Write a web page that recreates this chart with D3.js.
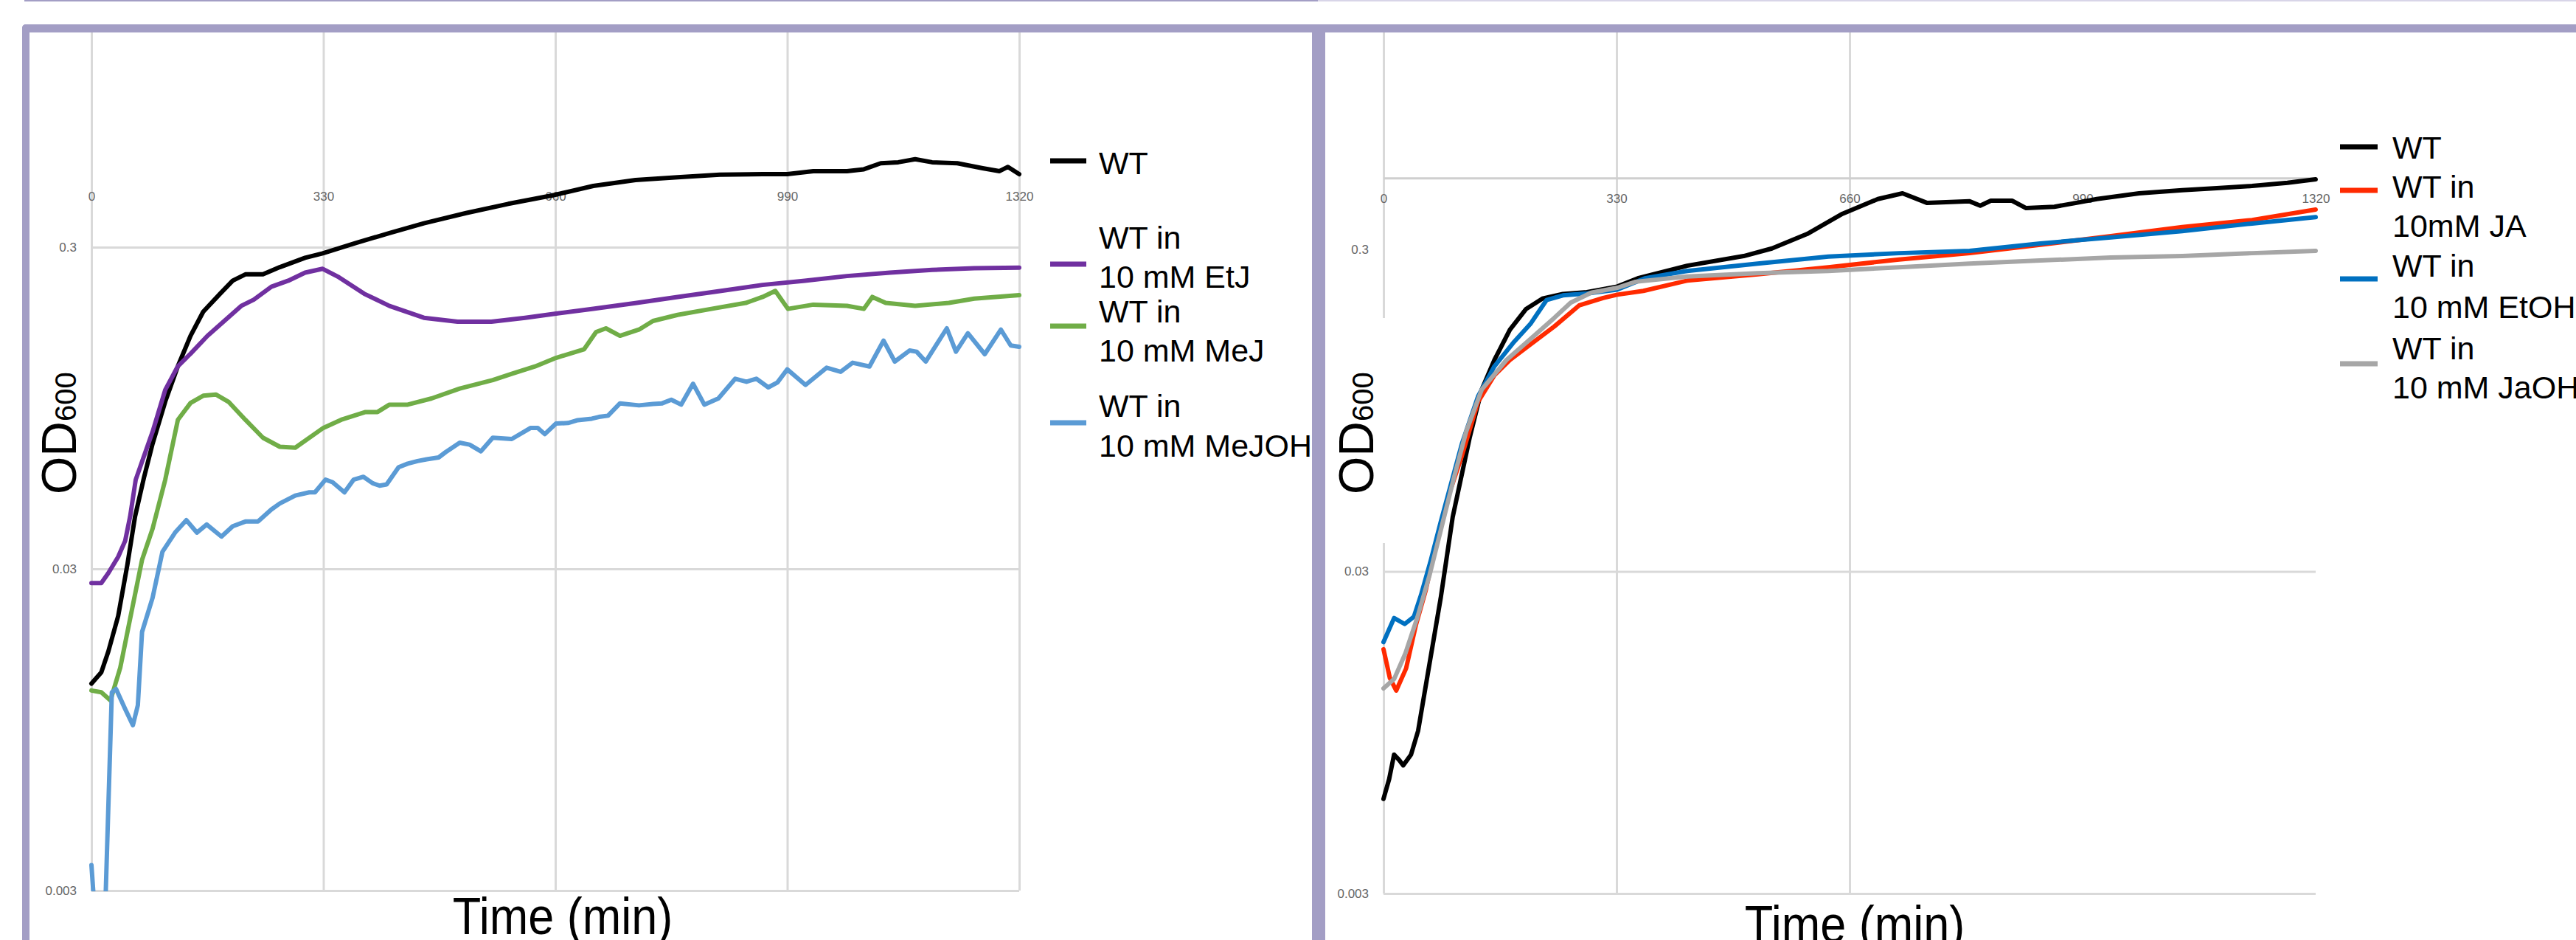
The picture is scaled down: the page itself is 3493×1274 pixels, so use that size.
<!DOCTYPE html>
<html>
<head>
<meta charset="utf-8">
<script src="https://cdn.jsdelivr.net/npm/d3@7"></script>
<style>
  body { margin: 0; background: #fff; }
  svg { display: block; }
  .tick text { font-family: "Liberation Sans", Arial, sans-serif; fill: #666; }
  .grid line { stroke: #d9d9d9; stroke-width: 3; }
</style>
</head>
<body>
<div class="chart"></div>
<script>
// Growth curves, two panels. time in min, OD600 on log axis

var xTicks = [0, 330, 660, 990, 1320];
var yTicks = [0.003, 0.03, 0.3];

// left panel
var leftWtTime = [0,14,24,38,51,62,75,87,105,123,141,159,183,201,219,244,268,304,329,376,424,473,533,593,659,714,774,834,894,955,990,1027,1075,1099,1123,1148,1172,1196,1232,1268,1292,1304,1320];
var leftWtOD = [0.0132,0.0143,0.0166,0.0214,0.0308,0.0436,0.058,0.0735,0.0993,0.128,0.159,0.189,0.215,0.236,0.247,0.247,0.260,0.278,0.287,0.309,0.332,0.356,0.383,0.409,0.436,0.465,0.485,0.495,0.504,0.506,0.506,0.517,0.517,0.524,0.547,0.551,0.563,0.551,0.547,0.528,0.517,0.533,0.506];

var etjTime = [0,14,24,38,48,55,63,75,87,105,123,141,165,189,213,231,256,280,304,329,352,388,424,473,521,569,617,665,714,774,834,894,955,1015,1075,1136,1196,1256,1320];
var etjOD = [0.0271,0.0271,0.0291,0.0327,0.0367,0.0436,0.0568,0.0675,0.0801,0.108,0.128,0.140,0.159,0.177,0.197,0.206,0.226,0.236,0.250,0.257,0.242,0.215,0.197,0.181,0.176,0.176,0.181,0.187,0.193,0.201,0.210,0.219,0.229,0.236,0.244,0.250,0.255,0.258,0.259];

var mejTime = [0,14,27,41,55,72,87,105,123,141,159,177,195,219,244,268,290,330,357,390,407,424,450,484,524,571,598,631,661,701,718,732,752,779,799,834,882,931,955,973,991,1027,1075,1099,1111,1130,1172,1220,1256,1320];
var mejOD = [0.01256,0.0124,0.0117,0.0148,0.0210,0.0320,0.0400,0.0568,0.0872,0.0984,0.1036,0.1045,0.0992,0.0872,0.0767,0.0719,0.0714,0.0823,0.0875,0.0922,0.0922,0.0972,0.0972,0.1016,0.1090,0.1159,0.1212,0.1277,0.1358,0.1445,0.1634,0.1678,0.1591,0.1663,0.1769,0.1848,0.1929,0.2013,0.2101,0.2194,0.1929,0.1988,0.1971,0.1929,0.2101,0.2013,0.1971,0.2013,0.2075,0.2129];

var mejohTime = [0,3,8,16,20,29,35,48,59,66,72,87,101,119,135,150,164,185,201,219,237,256,268,290,310,318,333,343,360,373,387,400,410,420,437,450,464,477,494,504,524,538,554,571,598,625,635,645,661,678,692,712,722,735,752,779,799,812,825,839,856,872,892,916,932,946,963,976,990,1016,1046,1066,1083,1107,1127,1143,1164,1174,1187,1217,1230,1247,1271,1294,1308,1320];
var mejohOD = [0.0036,0.0029,0.0022,0.0022,0.0028,0.0124,0.0127,0.011,0.0098,0.0113,0.0191,0.0244,0.0339,0.0389,0.0425,0.0389,0.0412,0.0378,0.0407,0.0421,0.0421,0.0459,0.0479,0.0507,0.0519,0.0519,0.0568,0.0558,0.0519,0.0568,0.0580,0.0554,0.0544,0.0549,0.0621,0.0637,0.0649,0.0657,0.0666,0.0692,0.0740,0.0730,0.0696,0.0767,0.0760,0.0823,0.0823,0.0787,0.0849,0.0852,0.0870,0.0879,0.0890,0.0898,0.0981,0.0967,0.0977,0.0981,0.1007,0.0972,0.1129,0.0972,0.1016,0.1170,0.1145,0.1170,0.1100,0.1139,0.1251,0.1119,0.1266,0.1229,0.1312,0.1277,0.1537,0.1323,0.1432,0.1420,0.1323,0.1678,0.1420,0.1620,0.1395,0.1663,0.1484,0.1471];

// right panel
var rightWtTime = [0,8,15,22,28,39,49,64,81,98,122,139,157,179,202,225,254,288,331,360,430,510,550,600,650,700,735,770,830,845,860,890,910,950,980,1010,1070,1131,1180,1230,1280,1320];
var rightWtOD = [0.0059,0.0068,0.0081,0.0078,0.0075,0.0081,0.0096,0.015,0.0248,0.0443,0.078,0.110,0.136,0.169,0.196,0.211,0.218,0.221,0.230,0.244,0.267,0.286,0.302,0.335,0.387,0.430,0.448,0.418,0.423,0.410,0.425,0.425,0.403,0.407,0.418,0.430,0.448,0.458,0.465,0.472,0.483,0.495];

var jaTime = [0,9,18,32,46,60,74,94,111,134,157,179,208,242,277,311,331,368,430,530,630,730,830,930,1030,1131,1230,1320];
var jaOD = [0.0172,0.014,0.0128,0.0150,0.0205,0.0263,0.0365,0.0531,0.0686,0.101,0.122,0.136,0.152,0.173,0.201,0.212,0.217,0.223,0.240,0.251,0.264,0.279,0.292,0.310,0.330,0.352,0.370,0.399];

var etohTime = [0,15,30,43,53,67,81,111,134,157,185,208,231,254,288,331,370,430,530,630,730,830,930,1030,1131,1230,1320];
var etohOD = [0.0181,0.0215,0.0206,0.0217,0.0253,0.0325,0.0427,0.0747,0.105,0.130,0.155,0.176,0.209,0.216,0.219,0.225,0.244,0.257,0.271,0.285,0.292,0.297,0.313,0.327,0.342,0.361,0.378];

var jaohTime = [0,15,31,48,65,82,99,117,139,174,208,242,265,294,331,357,430,530,630,730,830,930,1030,1131,1230,1320];
var jaohOD = [0.0130,0.0139,0.0167,0.0216,0.0291,0.041,0.0578,0.0815,0.110,0.136,0.158,0.184,0.205,0.220,0.228,0.238,0.247,0.253,0.257,0.264,0.271,0.277,0.283,0.286,0.292,0.297];

var leftLabels = [["WT"], ["WT in", "10 mM EtJ"], ["WT in", "10 mM MeJ"], ["WT in", "10 mM MeJOH"]];
var rightLabels = [["WT"], ["WT in", "10mM JA"], ["WT in", "10 mM EtOH"], ["WT in", "10 mM JaOH"]];

var svgWidth = 3493;
var svgHeight = 1274;
var frameColor = "#a39ec5";

var svg = d3.select(".chart")
  .append("svg")
  .attr("width", svgWidth)
  .attr("height", svgHeight)
  .style("font-family", "'Liberation Sans', Arial, sans-serif");

svg.append("rect").attr("width", svgWidth).attr("height", svgHeight).attr("fill", "#fff");

// frame around the two screenshots
svg.append("rect").attr("x", 33).attr("y", 0).attr("width", 1754).attr("height", 2).attr("fill", frameColor);
svg.append("rect").attr("x", 1787).attr("y", 0).attr("width", svgWidth - 1787).attr("height", 2).attr("fill", "#d8d5e8");
svg.append("rect").attr("x", 30).attr("y", 33).attr("width", svgWidth).attr("height", 11).attr("rx", 5).attr("fill", frameColor);
svg.append("rect").attr("x", 30).attr("y", 33).attr("width", 10).attr("height", svgHeight).attr("rx", 5).attr("fill", frameColor);
svg.append("rect").attr("x", 1779).attr("y", 33).attr("width", 18).attr("height", svgHeight).attr("fill", frameColor);

var panels = [
  {
    id: "left", x0: 124, x1: 1382, top: 44, yLow: 1207, yHigh: 335,
    xGrid: xTicks, yGrid: yTicks, axisLine: false, labelPad: 22,
    series: [
      {t: leftWtTime, v: leftWtOD, color: "#000000"},
      {t: etjTime, v: etjOD, color: "#7030a0"},
      {t: mejTime, v: mejOD, color: "#70ad47"},
      {t: mejohTime, v: mejohOD, color: "#5b9bd5"}
    ],
    labels: leftLabels,
    legend: {x0: 1424, x1: 1473, tx: 1490, lineY: [218, 358, 442, 573], base: [[236], [337, 390], [437, 490], [565, 619]]},
    titleX: 763, titleY: 1266, odX: 103
  },
  {
    id: "right", x0: 1876, x1: 3140, top: 44, yLow: 1211, yHigh: 338,
    xGrid: [0, 330, 660], yGrid: [0.003, 0.03], axisLine: true, labelPad: 22,
    series: [
      {t: rightWtTime, v: rightWtOD, color: "#000000"},
      {t: jaTime, v: jaOD, color: "#ff2a00"},
      {t: etohTime, v: etohOD, color: "#0070c0"},
      {t: jaohTime, v: jaohOD, color: "#a6a6a6"}
    ],
    labels: rightLabels,
    legend: {x0: 3173, x1: 3224, tx: 3244, lineY: [199, 258, 378, 493], base: [[215], [268, 321], [375, 431], [487, 540]]},
    titleX: 2515, titleY: 1277, odX: 1862
  }
];

panels.forEach(function(p) {
  var x = d3.scaleLinear().domain([0, 1320]).range([p.x0, p.x1]);
  var y = d3.scaleLog().domain([0.003, 0.3]).range([p.yLow, p.yHigh]);
  var g = svg.append("g");

  // vertical gridlines
  g.append("g")
    .attr("class", "grid")
    .attr("transform", `translate(0, ${p.yLow})`)
    .call(d3.axisBottom(x).tickValues(p.xGrid).tickSize(-(p.yLow - p.top)).tickFormat(""))
    .call(s => s.select(".domain").remove());

  // horizontal gridlines
  g.append("g")
    .attr("class", "grid")
    .attr("transform", `translate(${p.x0}, 0)`)
    .call(d3.axisLeft(y).tickValues(p.yGrid).tickSize(-(p.x1 - p.x0)).tickFormat(""))
    .call(s => s.select(".domain").remove());

  // y labels
  g.append("g")
    .attr("transform", `translate(${p.x0}, 0)`)
    .call(d3.axisLeft(y).tickValues(yTicks).tickSize(0).tickPadding(20).tickFormat(d => String(d)))
    .call(s => s.select(".domain").remove())
    .selectAll("text").style("font-size", "17px");

  // x axis crosses at OD 0.5, labels just under it
  var xAxis = g.append("g")
    .attr("transform", `translate(0, ${y(0.5)})`)
    .call(d3.axisBottom(x).tickValues(xTicks).tickSize(0).tickSizeOuter(0).tickPadding(p.labelPad).tickFormat(d => String(d)));
  xAxis.selectAll("text").style("font-size", "17px");
  if (p.axisLine) {
    xAxis.select(".domain").attr("stroke", "#cfcfcf").attr("stroke-width", 3);
  } else {
    xAxis.select(".domain").remove();
  }

  // curves
  svg.append("clipPath").attr("id", "clip-" + p.id)
    .append("rect")
    .attr("x", p.x0 - 5).attr("y", p.top)
    .attr("width", p.x1 - p.x0 + 10).attr("height", p.yLow - p.top + 1);

  var line = d3.line()
    .x(d => x(d[0]))
    .y(d => y(d[1]));

  g.append("g")
    .attr("clip-path", `url(#clip-${p.id})`)
    .selectAll("path")
    .data(p.series)
    .enter()
    .append("path")
    .attr("d", s => line(d3.zip(s.t, s.v)))
    .attr("fill", "none")
    .attr("stroke", s => s.color)
    .attr("stroke-width", 6)
    .attr("stroke-linejoin", "round")
    .attr("stroke-linecap", "round");

  // legend
  var lg = g.append("g");
  p.series.forEach(function(s, i) {
    lg.append("line")
      .attr("x1", p.legend.x0).attr("x2", p.legend.x1)
      .attr("y1", p.legend.lineY[i]).attr("y2", p.legend.lineY[i])
      .attr("stroke", s.color).attr("stroke-width", 7);
    p.labels[i].forEach(function(txt, j) {
      lg.append("text")
        .attr("x", p.legend.tx)
        .attr("y", p.legend.base[i][j])
        .style("font-size", "43px")
        .attr("fill", "#000")
        .text(txt);
    });
  });

  // axis titles
  if (p.id === "right") {
    g.append("rect").attr("x", 1799).attr("y", 431).attr("width", 80).attr("height", 305).attr("fill", "#fff");
  }
  var od = g.append("text")
    .attr("transform", `translate(${p.odX}, 670) rotate(-90)`)
    .style("font-size", "66px")
    .attr("fill", "#000");
  od.append("tspan").text("OD");
  od.append("tspan").style("font-size", "40px").text("600");

  g.append("text")
    .attr("transform", `translate(${p.titleX}, ${p.titleY}) scale(0.9, 1)`)
    .attr("text-anchor", "middle")
    .style("font-size", "70px")
    .attr("fill", "#000")
    .text("Time (min)");
});
</script>
</body>
</html>
